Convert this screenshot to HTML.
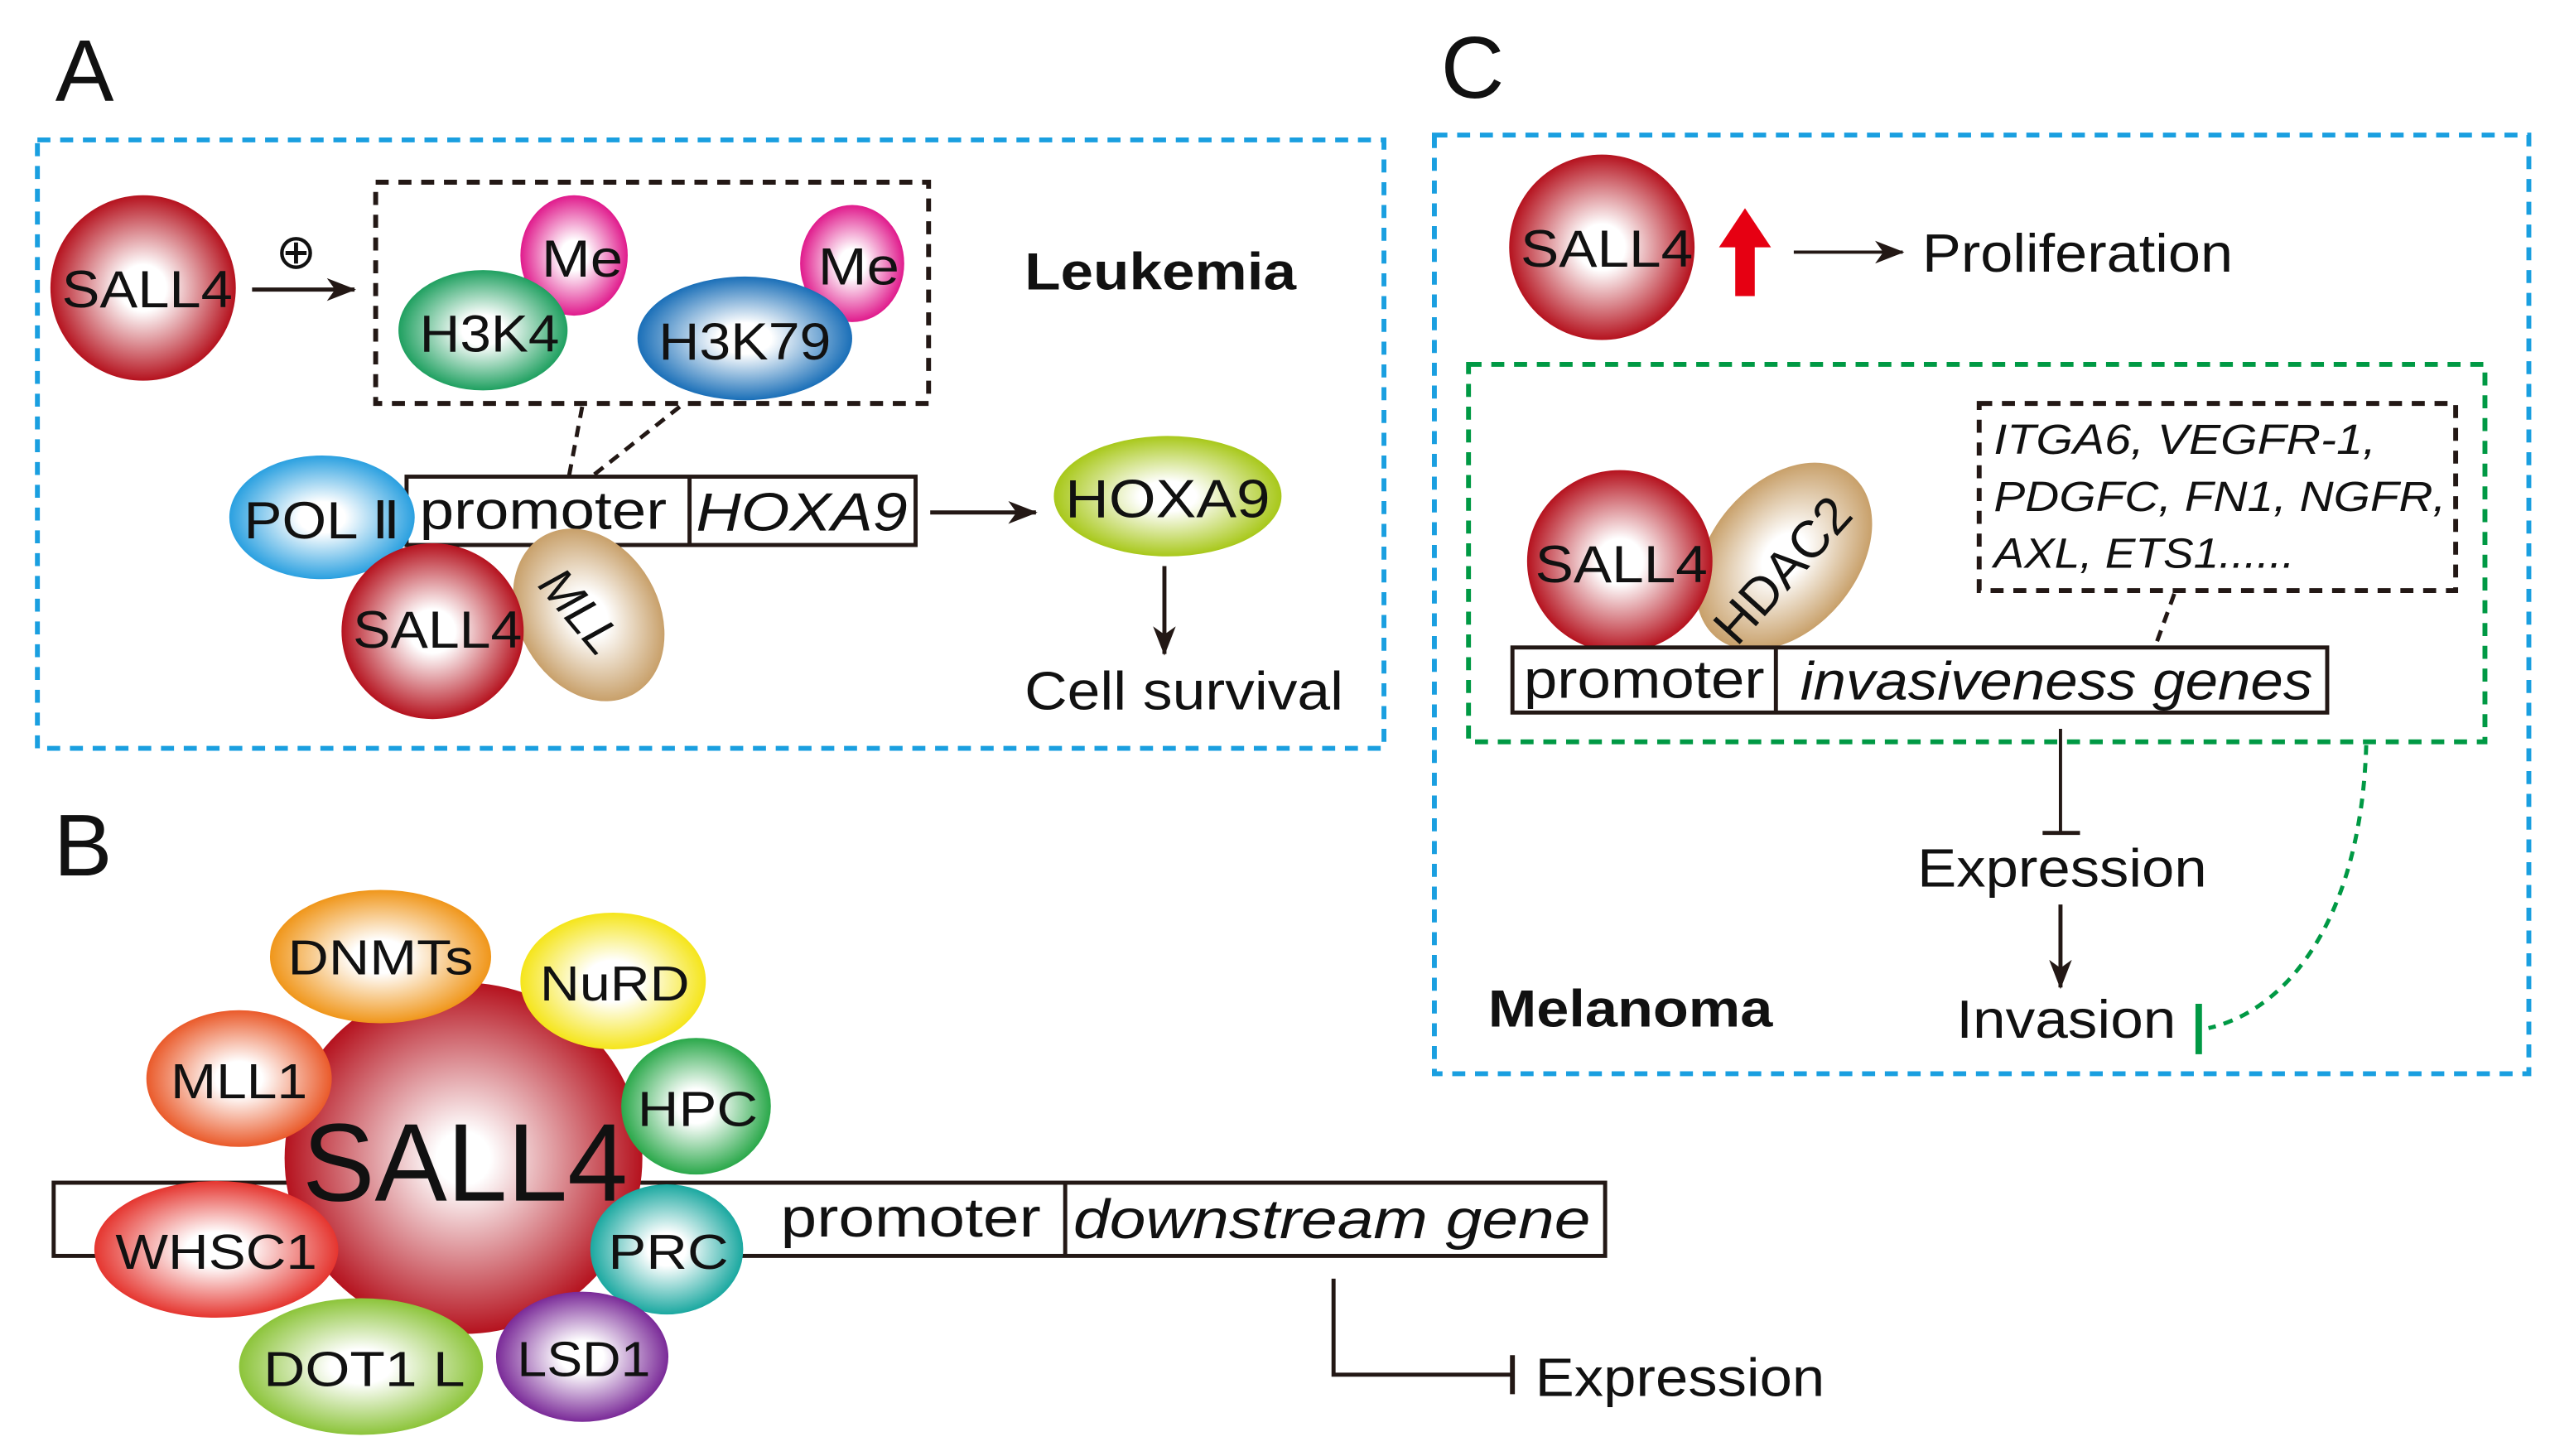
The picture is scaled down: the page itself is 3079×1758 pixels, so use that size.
<!DOCTYPE html>
<html><head><meta charset="utf-8"><style>html,body{margin:0;padding:0;background:#fff}svg{display:block}text{font-family:"Liberation Sans",Arial,sans-serif;fill:#111}</style></head><body>
<svg width="3079" height="1758" viewBox="0 0 1568 895" preserveAspectRatio="none" xmlns="http://www.w3.org/2000/svg">
<defs>
<radialGradient id="red"><stop offset="0.25" stop-color="#fff"/><stop offset="1" stop-color="#b5121e"/></radialGradient>
<radialGradient id="tan"><stop offset="0.25" stop-color="#fff"/><stop offset="1" stop-color="#c8a06a"/></radialGradient>
<radialGradient id="pink"><stop offset="0.25" stop-color="#fff"/><stop offset="1" stop-color="#e01a8c"/></radialGradient>
<radialGradient id="green"><stop offset="0.25" stop-color="#fff"/><stop offset="1" stop-color="#1fa060"/></radialGradient>
<radialGradient id="blue"><stop offset="0.25" stop-color="#fff"/><stop offset="1" stop-color="#1a6fb8"/></radialGradient>
<radialGradient id="lblue"><stop offset="0.25" stop-color="#fff"/><stop offset="1" stop-color="#2aa0e0"/></radialGradient>
<radialGradient id="yg"><stop offset="0.25" stop-color="#fff"/><stop offset="1" stop-color="#a8c81a"/></radialGradient>
<radialGradient id="orange"><stop offset="0.25" stop-color="#fff"/><stop offset="1" stop-color="#f0961a"/></radialGradient>
<radialGradient id="yellow"><stop offset="0.3" stop-color="#fff"/><stop offset="1" stop-color="#f5e51a"/></radialGradient>
<radialGradient id="ored"><stop offset="0.25" stop-color="#fff"/><stop offset="1" stop-color="#ea5a2a"/></radialGradient>
<radialGradient id="hpc"><stop offset="0.25" stop-color="#fff"/><stop offset="1" stop-color="#2aa84a"/></radialGradient>
<radialGradient id="rr"><stop offset="0.25" stop-color="#fff"/><stop offset="1" stop-color="#e5352f"/></radialGradient>
<radialGradient id="teal"><stop offset="0.25" stop-color="#fff"/><stop offset="1" stop-color="#1aa8a0"/></radialGradient>
<radialGradient id="lg"><stop offset="0.25" stop-color="#fff"/><stop offset="1" stop-color="#8cc43a"/></radialGradient>
<radialGradient id="purple"><stop offset="0.25" stop-color="#fff"/><stop offset="1" stop-color="#7a2a98"/></radialGradient>
<radialGradient id="bigred"><stop offset="0.15" stop-color="#fff"/><stop offset="1" stop-color="#b5121e"/></radialGradient>
<marker id="ah2" markerWidth="18" markerHeight="14" refX="17" refY="7" orient="auto" markerUnits="userSpaceOnUse"><path d="M0,0 L18,7 L0,14 L5,7 Z" fill="#231815"/></marker>
</defs>

<!-- A -->
<text x="34" y="62" font-size="54">A</text>
<rect x="23" y="86" width="828" height="374" fill="none" stroke="#1a9fe0" stroke-width="3" stroke-dasharray="8,6"/>
<ellipse cx="88" cy="177" rx="57" ry="57" fill="url(#red)"/>
<text x="38" y="189" font-size="32" textLength="105" lengthAdjust="spacingAndGlyphs">SALL4</text>
<text x="182" y="165" font-size="30" text-anchor="middle">⊕</text>
<line x1="155" y1="178" x2="218" y2="178" stroke="#231815" stroke-width="2.5" marker-end="url(#ah2)"/>
<rect x="231" y="112" width="340" height="136" fill="none" stroke="#231815" stroke-width="3" stroke-dasharray="8,6"/>
<ellipse cx="353" cy="157" rx="33" ry="37" fill="url(#pink)"/>
<text x="333" y="170" font-size="32" textLength="50" lengthAdjust="spacingAndGlyphs">Me</text>
<ellipse cx="297" cy="203" rx="52" ry="37" fill="url(#green)"/>
<text x="258" y="216" font-size="32" textLength="86" lengthAdjust="spacingAndGlyphs">H3K4</text>
<ellipse cx="524" cy="162" rx="32" ry="36" fill="url(#pink)"/>
<text x="503" y="175" font-size="32" textLength="50" lengthAdjust="spacingAndGlyphs">Me</text>
<ellipse cx="458" cy="208" rx="66" ry="38" fill="url(#blue)"/>
<text x="405" y="221" font-size="32" textLength="106" lengthAdjust="spacingAndGlyphs">H3K79</text>
<line x1="358" y1="250" x2="350" y2="292" stroke="#231815" stroke-width="2.5" stroke-dasharray="7,5"/>
<line x1="418" y1="250" x2="365" y2="292" stroke="#231815" stroke-width="2.5" stroke-dasharray="7,5"/>
<rect x="250" y="293" width="313" height="42" fill="#fff" stroke="#231815" stroke-width="2.5"/>
<line x1="424" y1="293" x2="424" y2="335" stroke="#231815" stroke-width="2.5"/>
<text x="258" y="325" font-size="33" textLength="152" lengthAdjust="spacingAndGlyphs">promoter</text>
<text x="428" y="326" font-size="33" font-style="italic" textLength="130" lengthAdjust="spacingAndGlyphs">HOXA9</text>
<ellipse cx="198" cy="318" rx="57" ry="38" fill="url(#lblue)"/>
<text x="150" y="331" font-size="32" textLength="96" lengthAdjust="spacingAndGlyphs">POL Ⅱ</text>
<ellipse cx="362" cy="378" rx="43" ry="56" transform="rotate(-30 362 378)" fill="url(#tan)"/>
<text x="0" y="0" font-size="30" font-style="italic" transform="translate(330 360) rotate(50)">MLL</text>
<ellipse cx="266" cy="388" rx="56" ry="54" fill="url(#red)"/>
<text x="217" y="398" font-size="32" textLength="104" lengthAdjust="spacingAndGlyphs">SALL4</text>
<line x1="572" y1="315" x2="637" y2="315" stroke="#231815" stroke-width="2.5" marker-end="url(#ah2)"/>
<ellipse cx="718" cy="305" rx="70" ry="37" fill="url(#yg)"/>
<text x="655" y="318" font-size="33" textLength="126" lengthAdjust="spacingAndGlyphs">HOXA9</text>
<line x1="716" y1="348" x2="716" y2="402" stroke="#231815" stroke-width="2.5" marker-end="url(#ah2)"/>
<text x="630" y="436" font-size="33" textLength="196" lengthAdjust="spacingAndGlyphs">Cell survival</text>
<text x="630" y="178" font-size="32" font-weight="bold" textLength="167" lengthAdjust="spacingAndGlyphs">Leukemia</text>

<!-- B -->
<text x="33" y="538" font-size="54">B</text>
<rect x="33" y="727" width="954" height="45" fill="#fff" stroke="#231815" stroke-width="2.5"/>
<line x1="655" y1="727" x2="655" y2="772" stroke="#231815" stroke-width="2.5"/>
<text x="480" y="760" font-size="34" textLength="160" lengthAdjust="spacingAndGlyphs">promoter</text>
<text x="660" y="761" font-size="34" font-style="italic" textLength="318" lengthAdjust="spacingAndGlyphs">downstream gene</text>
<ellipse cx="285" cy="712" rx="110" ry="108" fill="url(#bigred)"/>
<ellipse cx="234" cy="588" rx="68" ry="41" fill="url(#orange)"/>
<text x="177" y="599" font-size="30" textLength="114" lengthAdjust="spacingAndGlyphs">DNMTs</text>
<ellipse cx="377" cy="603" rx="57" ry="42" fill="url(#yellow)"/>
<text x="332" y="615" font-size="30" textLength="92" lengthAdjust="spacingAndGlyphs">NuRD</text>
<ellipse cx="147" cy="663" rx="57" ry="42" fill="url(#ored)"/>
<text x="105" y="675" font-size="30" textLength="84" lengthAdjust="spacingAndGlyphs">MLL1</text>
<ellipse cx="428" cy="680" rx="46" ry="42" fill="url(#hpc)"/>
<text x="392" y="692" font-size="30" textLength="74" lengthAdjust="spacingAndGlyphs">HPC</text>
<text x="186" y="738" font-size="68" textLength="200" lengthAdjust="spacingAndGlyphs">SALL4</text>
<ellipse cx="133" cy="768" rx="75" ry="42" fill="url(#rr)"/>
<text x="71" y="780" font-size="30" textLength="124" lengthAdjust="spacingAndGlyphs">WHSC1</text>
<ellipse cx="410" cy="768" rx="47" ry="40" fill="url(#teal)"/>
<text x="374" y="780" font-size="30" textLength="74" lengthAdjust="spacingAndGlyphs">PRC</text>
<ellipse cx="222" cy="840" rx="75" ry="42" fill="url(#lg)"/>
<text x="162" y="852" font-size="30" textLength="124" lengthAdjust="spacingAndGlyphs">DOT1 L</text>
<ellipse cx="358" cy="834" rx="53" ry="40" fill="url(#purple)"/>
<text x="318" y="846" font-size="30" textLength="82" lengthAdjust="spacingAndGlyphs">LSD1</text>
<polyline points="820,786 820,845 930,845" fill="none" stroke="#231815" stroke-width="2.5"/>
<line x1="930" y1="833" x2="930" y2="857" stroke="#231815" stroke-width="3"/>
<text x="944" y="858" font-size="33" textLength="178" lengthAdjust="spacingAndGlyphs">Expression</text>

<!-- C -->
<text x="886" y="60" font-size="54">C</text>
<rect x="882" y="83" width="673" height="577" fill="none" stroke="#1a9fe0" stroke-width="3" stroke-dasharray="8,6"/>
<ellipse cx="985" cy="152" rx="57" ry="57" fill="url(#red)"/>
<text x="935" y="164" font-size="32" textLength="106" lengthAdjust="spacingAndGlyphs">SALL4</text>
<path d="M1073,128 L1089,152 L1079,152 L1079,182 L1067,182 L1067,152 L1057,152 Z" fill="#e60012"/>
<line x1="1103" y1="155" x2="1170" y2="155" stroke="#231815" stroke-width="2" marker-end="url(#ah2)"/>
<text x="1182" y="167" font-size="33" textLength="191" lengthAdjust="spacingAndGlyphs">Proliferation</text>
<rect x="903" y="224" width="625" height="232" fill="none" stroke="#009944" stroke-width="3" stroke-dasharray="8,6"/>
<rect x="1217" y="248" width="293" height="115" fill="none" stroke="#231815" stroke-width="3" stroke-dasharray="8,6"/>
<text x="1226" y="279" font-size="26" font-style="italic" textLength="235" lengthAdjust="spacingAndGlyphs">ITGA6, VEGFR-1,</text>
<text x="1226" y="314" font-size="26" font-style="italic" textLength="278" lengthAdjust="spacingAndGlyphs">PDGFC, FN1, NGFR,</text>
<text x="1226" y="349" font-size="26" font-style="italic" textLength="185" lengthAdjust="spacingAndGlyphs">AXL, ETS1......</text>
<ellipse cx="1097" cy="342" rx="45" ry="65" transform="rotate(40 1097 342)" fill="url(#tan)"/>
<text x="0" y="0" font-size="32" transform="translate(1068 398) rotate(-48)">HDAC2</text>
<ellipse cx="996" cy="345" rx="57" ry="56" fill="url(#red)"/>
<text x="944" y="358" font-size="32" textLength="106" lengthAdjust="spacingAndGlyphs">SALL4</text>
<line x1="1337" y1="365" x2="1325" y2="398" stroke="#231815" stroke-width="2.5" stroke-dasharray="7,5"/>
<rect x="930" y="398" width="501" height="40" fill="#fff" stroke="#231815" stroke-width="2.5"/>
<line x1="1092" y1="398" x2="1092" y2="438" stroke="#231815" stroke-width="2.5"/>
<text x="937" y="429" font-size="33" textLength="148" lengthAdjust="spacingAndGlyphs">promoter</text>
<text x="1107" y="430" font-size="33" font-style="italic" textLength="315" lengthAdjust="spacingAndGlyphs">invasiveness genes</text>
<line x1="1267" y1="448" x2="1267" y2="512" stroke="#231815" stroke-width="2"/>
<line x1="1256" y1="512" x2="1279" y2="512" stroke="#231815" stroke-width="2.5"/>
<text x="1179" y="545" font-size="33" textLength="178" lengthAdjust="spacingAndGlyphs">Expression</text>
<line x1="1267" y1="556" x2="1267" y2="607" stroke="#231815" stroke-width="2.5" marker-end="url(#ah2)"/>
<text x="1203" y="638" font-size="33" textLength="135" lengthAdjust="spacingAndGlyphs">Invasion</text>
<line x1="1352" y1="617" x2="1352" y2="648" stroke="#009944" stroke-width="4"/>
<path d="M1455,458 C1452,560 1410,620 1358,632" fill="none" stroke="#009944" stroke-width="2.5" stroke-dasharray="6,5"/>
<text x="915" y="631" font-size="32" font-weight="bold" textLength="175" lengthAdjust="spacingAndGlyphs">Melanoma</text>
</svg>
</body></html>
